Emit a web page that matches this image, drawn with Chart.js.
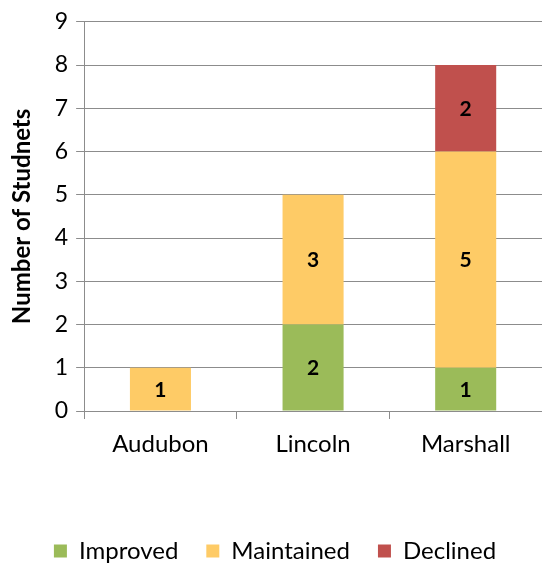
<!DOCTYPE html>
<html>
<head>
<meta charset="utf-8">
<script src="https://cdn.jsdelivr.net/npm/chart.js@4"></script>
<style>
  html, body { margin: 0; padding: 0; background: #fff; }
  #wrap { width: 542px; height: 565px; }
</style>
</head>
<body>
<div id="wrap"><canvas id="studentChart"></canvas></div>
<script>
const SCHOOLS = ['Audubon', 'Lincoln', 'Marshall'];
const IMPROVED = [0, 2, 1];
const MAINTAINED = [1, 3, 5];
const DECLINED = [0, 0, 2];
const Y_TICKS = [0, 1, 2, 3, 4, 5, 6, 7, 8, 9];

const FONT = "Lato, 'Open Sans', sans-serif";
const GRID = '#8c8c8c';

// writes each segment's value in the middle of its bar piece
const segmentLabels = {
    id: 'segmentLabels',
    afterDatasetsDraw(chart) {
        const ctx = chart.ctx;
        ctx.save();
        ctx.font = `bold 21px ${FONT}`;
        ctx.fillStyle = '#000';
        ctx.textAlign = 'center';
        ctx.textBaseline = 'middle';
        chart.data.datasets.forEach((ds, di) => {
            chart.getDatasetMeta(di).data.forEach((bar, i) => {
                const v = ds.data[i];
                if (!v) return;
                const mid = (bar.y + bar.base) / 2;
                ctx.fillText(String(v), bar.x, mid + 1);
            });
        });
        ctx.restore();
    }
};

new Chart(document.getElementById('studentChart'), {
    type: 'bar',
    data: {
        labels: SCHOOLS,
        datasets: [
            { label: 'Improved', data: IMPROVED, backgroundColor: '#9bbb59' },
            { label: 'Maintained', data: MAINTAINED, backgroundColor: '#fecb66' },
            { label: 'Declined', data: DECLINED, backgroundColor: '#c0504d' }
        ]
    },
    options: {
        responsive: true,
        maintainAspectRatio: false,
        animation: false,
        barPercentage: 0.4,
        categoryPercentage: 1,
        layout: { padding: { left: 8, right: 0, top: 10, bottom: -8 } },
        plugins: {
            legend: {
                position: 'bottom',
                labels: {
                    font: { family: FONT, size: 24 },
                    color: '#000',
                    boxWidth: 13,
                    boxHeight: 13,
                    padding: 28,
                    useBorderRadius: false
                }
            },
            tooltip: { enabled: false }
        },
        scales: {
            x: {
                stacked: true,
                afterFit: scale => { scale.height = 100; },
                grid: { offset: true, drawOnChartArea: false, drawTicks: true, tickLength: 8, color: GRID },
                border: { color: GRID, width: 1 },
                ticks: { font: { family: FONT, size: 24 }, color: '#000', padding: 11 }
            },
            y: {
                stacked: true,
                min: 0,
                max: 9,
                afterBuildTicks: scale => { scale.ticks = Y_TICKS.map(v => ({ value: v })); },
                grid: { color: GRID, tickLength: 8, lineWidth: 1 },
                border: { color: GRID, width: 1 },
                ticks: { font: { family: FONT, size: 23 }, color: '#000', padding: 8 },
                title: {
                    display: true,
                    text: 'Number of Studnets',
                    font: { family: FONT, size: 24, weight: 'bold' },
                    color: '#000',
                    padding: { top: 0, bottom: 10 }
                }
            }
        }
    },
    plugins: [segmentLabels]
});
</script>
</body>
</html>
